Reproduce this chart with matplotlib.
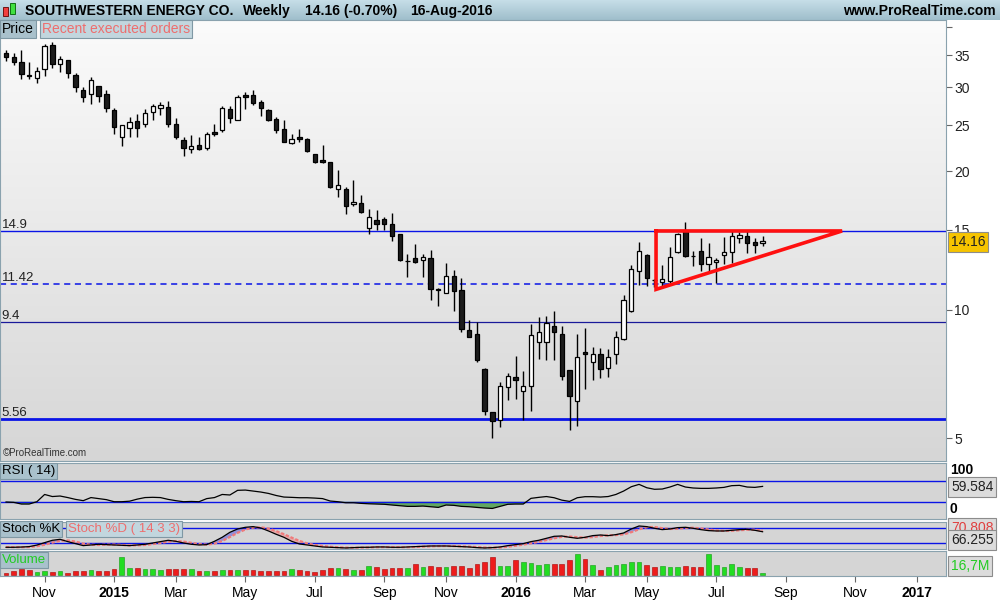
import numpy as np
import pandas as pd
import matplotlib
matplotlib.use('Agg')
import matplotlib.pyplot as plt
from matplotlib.patches import Rectangle

plt.rcParams['font.family'] = ['Liberation Sans', 'DejaVu Sans']

# weekly candles, from the week of 29-Sep-2014 to the week of 15-Aug-2016
opens = [35.4, 34.7, 33.8, 31.8, 31.3, 32.7, 36.8, 33.6, 34.2, 31.8,
         29.6, 29.0, 30.2, 29.0, 26.9, 23.6, 24.7, 25.5, 25.2, 26.6,
         27.1, 27.3, 25.2, 23.3, 22.3, 22.7, 22.4, 24.2, 24.4, 27.0,
         25.6, 28.9, 28.9, 27.9, 26.9, 25.8, 24.6, 22.9, 23.6, 23.4,
         21.7, 21.1, 20.9, 18.3, 18.3, 17.0, 17.1, 15.1, 15.7, 15.8,
         15.4, 14.7, 12.8, 13.0, 12.9, 13.0, 11.1, 10.9, 11.9, 11.06,
         8.98, 8.8, 7.32, 5.78, 5.54, 6.63, 7.0, 6.52, 6.70, 8.45,
         8.45, 9.19, 8.82, 7.28, 6.17, 8.0, 7.6, 7.93, 7.38, 7.95,
         8.57, 9.95, 12.18, 13.21, 11.66, 11.5, 11.58, 13.39, 14.92, 13.17,
         13.48, 12.6, 12.73, 13.22, 13.38, 14.36, 14.53, 14.1, 14.0]
highs = [35.85, 35.4, 35.85, 33.8, 33.0, 36.9, 37.2, 34.9, 34.2, 32.1,
         30.1, 31.5, 30.2, 29.6, 27.1, 25.0, 26.0, 26.4, 27.0, 27.7,
         27.9, 28.1, 25.9, 23.6, 23.9, 23.6, 24.2, 25.2, 27.4, 27.4,
         28.9, 29.3, 29.6, 28.2, 27.0, 26.0, 25.6, 24.0, 24.6, 23.5,
         21.75, 22.7, 20.95, 20.1, 18.5, 19.2, 17.8, 16.6, 16.5, 16.0,
         16.3, 14.7, 13.3, 13.95, 13.3, 13.55, 11.2, 12.7, 12.25, 11.75,
         9.48, 9.4, 7.35, 5.80, 6.83, 7.18, 7.85, 7.25, 9.29, 9.65,
         9.68, 9.93, 9.19, 7.28, 8.82, 9.1, 8.25, 8.18, 8.15, 8.95,
         10.78, 12.56, 14.12, 13.28, 11.7, 12.54, 13.78, 14.77, 15.55, 13.5,
         14.37, 14.04, 13.04, 14.48, 14.86, 14.84, 14.86, 14.4, 14.53]
lows = [34.1, 33.3, 31.2, 31.2, 30.6, 31.7, 32.9, 32.3, 31.3, 29.4,
        28.0, 27.7, 28.0, 26.7, 24.0, 22.6, 23.6, 23.6, 24.8, 25.6,
        26.3, 24.8, 23.4, 21.5, 21.9, 22.2, 22.2, 23.7, 24.2, 25.3,
        25.6, 27.0, 27.5, 26.1, 25.5, 24.1, 23.0, 22.8, 23.0, 22.0,
        20.85, 20.85, 18.4, 17.6, 16.2, 16.9, 16.3, 14.7, 15.0, 15.0,
        14.2, 12.8, 11.8, 12.7, 11.8, 10.5, 10.2, 10.9, 9.95, 8.9,
        8.7, 7.6, 5.7, 5.0, 5.34, 6.19, 6.22, 5.54, 5.84, 7.72,
        7.68, 7.68, 6.90, 5.24, 5.37, 6.58, 6.9, 6.99, 7.03, 7.52,
        8.54, 9.86, 11.35, 11.3, 11.25, 11.3, 11.44, 13.33, 13.1, 12.5,
        12.2, 12.2, 11.44, 12.62, 12.67, 14.0, 13.33, 13.33, 13.84]
closes = [34.7, 33.9, 31.9, 31.6, 32.5, 36.6, 33.6, 34.4, 32.2, 30.1,
          28.7, 31.1, 28.8, 27.1, 24.8, 25.0, 25.4, 24.7, 26.5, 27.4,
          27.5, 25.2, 23.6, 22.4, 22.6, 22.3, 24.0, 24.0, 27.1, 25.9,
          28.7, 28.7, 27.8, 27.2, 25.7, 24.4, 23.0, 23.4, 23.4, 22.1,
          20.9, 20.9, 18.5, 18.7, 16.9, 17.2, 16.4, 16.0, 15.4, 15.4,
          14.5, 12.9, 12.82, 12.75, 13.1, 11.1, 11.05, 11.9, 11.0, 9.03,
          8.7, 7.68, 5.84, 5.52, 6.67, 7.07, 6.9, 6.68, 8.77, 8.89,
          9.32, 8.92, 7.06, 6.34, 7.79, 7.95, 7.93, 7.33, 7.81, 8.68,
          10.51, 12.31, 13.48, 11.79, 11.62, 11.68, 13.05, 14.65, 13.16, 13.12,
          12.6, 13.05, 12.88, 13.41, 14.53, 14.62, 14.0, 13.87, 14.16]

rsi = [29.4, 28.7, 25.5, 25.5, 30, 44, 40, 41, 38, 34.5,
       32, 38, 36, 34, 30, 30, 31, 35, 38, 38.5,
       38, 34.5, 32, 30, 30.5, 30, 36, 38, 44, 43,
       52, 52.5, 50.6, 48.7, 46, 42, 39, 38.4, 37.7, 37.7,
       37, 36, 31.3, 30, 28, 28, 26.8, 26, 25.5, 25,
       23.6, 22.3, 21, 21, 21.6, 20.3, 19, 23.6, 23, 21,
       20.3, 19, 17.8, 17, 21, 25, 25.5, 25.5, 36.5, 38.4,
       40, 37.7, 33, 30.6, 37.7, 39.7, 39.7, 39, 40, 44,
       50.6, 59, 63.5, 57, 54, 54.5, 58.4, 63.5, 58.4, 56.5,
       55.8, 55.8, 56.5, 57.7, 61, 61.6, 58.4, 57.7, 59.584]

stoch_k = [4, 4, 5, 6.7, 13, 22.7, 32, 36, 26.7, 18.7,
           10.7, 13.3, 16, 14.7, 13.3, 12, 10.7, 13.3, 16, 21.3,
           26.7, 32, 28, 21.3, 16, 13.3, 14.7, 28, 44, 64,
           77.3, 84, 86.7, 81.3, 69.3, 56, 44, 28, 17.3, 13.3,
           9.3, 5.3, 4, 2.7, 1.3, 2.7, 4, 4, 5.3, 5.3,
           4, 4, 5.3, 6.7, 8, 9.3, 9.3, 9.3, 8, 6.7,
           5.3, 2.7, 1.3, 2.7, 5.3, 10.7, 14.7, 18.7, 26.7, 32,
           40, 48, 49.3, 44, 40, 44, 50.7, 53.3, 50.7, 54.7,
           61.3, 77.3, 89.3, 86.7, 80, 74.7, 77.3, 82.7, 84, 80,
           74.7, 70.7, 69.3, 69.3, 72, 74.7, 76, 72, 66.255]
stoch_d = [5, 4.5, 4.3, 5.2, 8.2, 14.1, 22.6, 30.2, 31.6, 27.1,
           18.7, 14.2, 13.3, 14.7, 14.7, 13.3, 12, 12, 13.3, 16.9,
           21.3, 26.7, 28.9, 27.1, 21.8, 16.9, 14.7, 18.7, 28.9, 45.3,
           61.8, 75.1, 82.7, 84, 79.1, 68.9, 56.4, 42.7, 29.8, 19.5,
           13.3, 9.3, 6.2, 4, 2.7, 2.2, 2.7, 3.6, 4.4, 4.9,
           4.9, 4.4, 4.4, 5.3, 6.7, 8, 8.9, 9.3, 8.9, 8,
           6.7, 4.9, 3.1, 2.2, 3.1, 6.2, 10.2, 14.7, 20, 25.8,
           32.9, 40, 45.8, 47.1, 44.4, 42.7, 44.9, 49.3, 51.6, 52.9,
           55.6, 64.4, 76, 84.4, 85.3, 80.5, 77.3, 78.2, 81.3, 82.2,
           79.6, 75.1, 71.6, 69.8, 70.2, 72, 74.2, 74.2, 70.808]

# volume in millions of shares
volume = [19, 32, 48, 40, 27, 32, 24, 32, 16, 32, 32, 40, 32, 35, 48,
          144, 59, 59, 48, 48, 40, 45, 48, 48, 45, 35, 35, 35, 40, 40,
          40, 40, 40, 35, 29, 32, 32, 48, 40, 32, 27, 40, 59, 59, 45,
          40, 40, 72, 67, 45, 59, 53, 59, 85, 67, 72, 67, 67, 72, 72,
          53, 85, 101, 141, 75, 72,
          120, 107, 93, 80, 85, 85, 85, 120, 165, 128, 80, 40, 67, 80, 85,
          101, 107, 80, 67, 72, 67, 61, 75, 61, 61, 165, 80, 61, 85, 67,
          59, 53, 16.7]

levels = [14.9, 11.42, 9.4, 5.56]
level_labels = ['14.9', '11.42', '9.4', '5.56']
tri_week = [84.2, 84.2, 108.3, 84.2]
tri_price = [14.9, 11.1, 14.9, 14.9]

first_week = '2014-09-29'
W, H = 1000, 600


def px_axes(fig, left, top, right, bottom):
    return fig.add_axes([left / W, 1 - bottom / H, (right - left) / W, (bottom - top) / H])


def fx(x):
    return x / W


def fy(y):
    return 1 - y / H


def gradient(ax, top, bottom):
    g = np.linspace(0, 1, 256).reshape(-1, 1)
    c0 = np.array(matplotlib.colors.to_rgb(top))
    c1 = np.array(matplotlib.colors.to_rgb(bottom))
    img = c0 + (c1 - c0) * g[:, :, None]
    ax.imshow(img, extent=[0, 1, 0, 1], transform=ax.transAxes, aspect='auto',
              origin='upper', zorder=0)


o = np.array(opens)
h = np.array(highs)
l = np.array(lows)
c = np.array(closes)
n = len(c)
x = np.arange(n)
up = c >= o

xlim = (-0.78, 121.76)
spine_col = '#8aa2ae'
blue = '#0a14e6'

fig = plt.figure(figsize=(10, 6), dpi=100, facecolor='white')

# header bar
hax = px_axes(fig, 0, 0, W, 20)
gradient(hax, '#c6dee8', '#9fbecb')
hax.set_xlim(0, 1)
hax.set_ylim(0, 1)
hax.axis('off')
hax.add_patch(Rectangle((3 / W, 0.2), 5 / W, 0.45, transform=hax.transAxes,
                        facecolor='#f04040', edgecolor='#600000', lw=0.6))
hax.add_patch(Rectangle((10 / W, 0.3), 5 / W, 0.55, transform=hax.transAxes,
                        facecolor='#40e040', edgecolor='#006000', lw=0.6))
for xp, s in [(25, 'SOUTHWESTERN ENERGY CO.'), (243, 'Weekly'),
              (305, '14.16 (-0.70%)'), (410, '16-Aug-2016')]:
    fig.text(fx(xp), fy(11), s, fontsize=10, fontweight='bold', va='center')
fig.text(fx(996), fy(11), 'www.ProRealTime.com', fontsize=10, fontweight='bold',
         va='center', ha='right')

# price panel
ax = px_axes(fig, 0, 20, 946, 461)
gradient(ax, '#fbfbfb', '#d6d6d6')
ax.set_yscale('function', functions=(lambda v: np.log(np.clip(v + 1.2, 1e-6, None)),
                                     lambda v: np.exp(v) - 1.2))
ax.set_xlim(*xlim)
ax.set_ylim(4.38, 41.34)

for lv in levels:
    if lv == 11.42:
        ax.axhline(lv, color=blue, lw=1.1, ls=(0, (4, 3)), zorder=2)
    elif lv == 5.56:
        ax.axhline(lv, color=blue, lw=2.0, zorder=2)
    elif lv == 9.4:
        ax.axhline(lv, color='#1a1a9a', lw=0.9, zorder=2)
    else:
        ax.axhline(lv, color=blue, lw=1.0, zorder=2)
for lv, s in zip(levels, level_labels):
    ax.text(0.2 / 121, lv, s, transform=ax.get_yaxis_transform(), fontsize=9.5,
            va='bottom', ha='left', color='#222222')

ax.vlines(x, l, h, color='black', lw=1.0, zorder=3)
body_lo = np.minimum(o, c)
body_hi = np.maximum(o, c)
ax.bar(x, body_hi - body_lo, bottom=body_lo, width=0.56,
       color=np.where(up, 'white', '#1c1c1c'), edgecolor='black', lw=0.9, zorder=4)
ax.plot(tri_week, tri_price, color='#ff1010', lw=2.6, zorder=5, solid_joinstyle='miter')

ax.yaxis.tick_right()
ax.set_yticks([5, 10, 15, 20, 25, 30, 35, 40])
ax.set_yticklabels(['5', '10', '15', '20', '25', '30', '35', ''])
ax.yaxis.set_minor_locator(matplotlib.ticker.NullLocator())
ax.tick_params(axis='y', direction='out', length=4, width=0.8, color='#666666',
               labelsize=10, pad=2, labelcolor='#222222')
ax.set_xticks([])
for s in ax.spines.values():
    s.set_color(spine_col)

fig.text(fx(2), fy(29), 'Price', fontsize=10, va='center',
         bbox=dict(boxstyle='square,pad=0.15', fc='#a9c1cc', ec='#7f98a4', lw=0.8))
fig.text(fx(42), fy(29), 'Recent executed orders', fontsize=10, va='center', color='#ee6e6e',
         bbox=dict(boxstyle='square,pad=0.15', fc='#c2d6de', ec='#7f98a4', lw=0.8))
fig.text(fx(3), fy(453), '\u00a9ProRealTime.com', fontsize=7, va='center', color='#333333')
fig.text(fx(951), fy(242), '14.16', fontsize=10, va='center', color='#222222',
         bbox=dict(boxstyle='square,pad=0.2', fc='#f6c400', ec='#8c8c8c', lw=0.8))

# RSI panel
rax = px_axes(fig, 0, 463, 946, 519)
rax.set_facecolor('#d5d5d5')
rax.set_xlim(*xlim)
rax.set_ylim(-3.4, 104.8)
rax.axhline(70, color=blue, lw=1.0)
rax.axhline(30, color=blue, lw=1.0)
r = np.array(rsi)
rax.fill_between(x, r, 30, where=r < 30, interpolate=True, color='#4e9e4e', alpha=0.85, lw=0)
rax.plot(x, r, color='black', lw=0.9)
rax.set_xticks([])
rax.set_yticks([])
for s in rax.spines.values():
    s.set_color(spine_col)
fig.text(fx(2), fy(471), 'RSI ( 14)', fontsize=9.5, va='center',
         bbox=dict(boxstyle='square,pad=0.15', fc='#a9c1cc', ec='#7f98a4', lw=0.8))
fig.text(fx(950), fy(470), '100', fontsize=10, va='center', fontweight='bold')
fig.text(fx(950), fy(509), '0', fontsize=10, va='center', fontweight='bold')
fig.text(fx(951), fy(487), '59.584', fontsize=10, va='center', color='#222222',
         bbox=dict(boxstyle='square,pad=0.2', fc='#dcdcdc', ec='#8c8c8c', lw=0.8))

# Stochastic panel
sax = px_axes(fig, 0, 522, 946, 549)
sax.set_facecolor('#d5d5d5')
sax.set_xlim(*xlim)
sax.set_ylim(-2.8, 105.2)
sax.axhline(80, color=blue, lw=1.0)
sax.axhline(20, color=blue, lw=1.0)
k = np.array(stoch_k)
d = np.array(stoch_d)
sax.fill_between(x, k, d, where=k >= d, interpolate=True, color='#5a5ae0', alpha=0.55, lw=0)
sax.fill_between(x, k, d, where=k < d, interpolate=True, color='#f08a8a', alpha=0.55, lw=0)
sax.plot(x, d, color='#f07a7a', lw=1.6, ls=(0, (1.5, 0.8)))
sax.plot(x, k, color='black', lw=0.9)
sax.set_xticks([])
sax.set_yticks([])
for s in sax.spines.values():
    s.set_color(spine_col)
fig.text(fx(2), fy(529), 'Stoch %K', fontsize=9.5, va='center',
         bbox=dict(boxstyle='square,pad=0.15', fc='#a9c1cc', ec='#7f98a4', lw=0.8))
fig.text(fx(68), fy(529), 'Stoch %D ( 14 3 3)', fontsize=9.5, va='center', color='#ee6e6e',
         bbox=dict(boxstyle='square,pad=0.15', fc='#c2d6de', ec='#7f98a4', lw=0.8))
fig.text(fx(951), fy(528), '70.808', fontsize=10, va='center', color='#e04040',
         bbox=dict(boxstyle='square,pad=0.2', fc='#dcdcdc', ec='#8c8c8c', lw=0.8))
fig.text(fx(951), fy(540), '66.255', fontsize=10, va='center', color='#222222',
         bbox=dict(boxstyle='square,pad=0.2', fc='#dcdcdc', ec='#8c8c8c', lw=0.8))

# Volume panel
vax = px_axes(fig, 0, 551, 946, 576)
vax.set_facecolor('#d5d5d5')
vax.set_xlim(*xlim)
vax.set_ylim(-8, 192)
vax.bar(x, volume, width=0.62, color=np.where(up, '#22dd22', '#ee1c1c'),
        edgecolor=np.where(up, '#119911', '#aa0000'), lw=0.4)
vax.set_yticks([])
for s in vax.spines.values():
    s.set_color(spine_col)
fig.text(fx(2), fy(560), 'Volume', fontsize=9.5, va='center', color='#22cc22',
         bbox=dict(boxstyle='square,pad=0.15', fc='#a9c1cc', ec='#7f98a4', lw=0.8))
fig.text(fx(951), fy(566), '16,7M', fontsize=10, va='center', color='#22cc22',
         bbox=dict(boxstyle='square,pad=0.2', fc='#dcdcdc', ec='#8c8c8c', lw=0.8))

# month ticks: first week of every odd month
weeks = pd.date_range(first_week, periods=124, freq='7D')
tick_pos = []
tick_lab = []
for i in range(1, len(weeks)):
    if weeks[i].month != weeks[i - 1].month and weeks[i].month % 2 == 1:
        tick_pos.append(i)
        tick_lab.append(str(weeks[i].year) if weeks[i].month == 1 else weeks[i].strftime('%b'))
vax.set_xticks(tick_pos)
vax.set_xticklabels(tick_lab)
vax.tick_params(axis='x', direction='out', length=4, width=0.8, color='#666666',
                labelsize=10, pad=3)
for t in vax.get_xticklabels():
    if t.get_text().isdigit():
        t.set_fontweight('bold')

fig.savefig('out.png', dpi=100, facecolor='white')
